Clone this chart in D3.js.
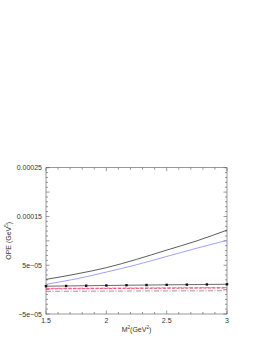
<!DOCTYPE html>
<html>
<head>
<meta charset="utf-8">
<script src="https://cdn.jsdelivr.net/npm/d3@7"></script>
<style>
  body { margin: 0; background: #fff; }
  text { font-family: "Liberation Sans", Arial, sans-serif; fill: #333; }
</style>
</head>
<body>
<svg></svg>
<script>
// values
let xs = [1.5, 1.75, 2, 2.25, 2.5, 2.75, 3]
let blackVals = [2.1e-5, 3.2e-5, 4.5e-5, 6.2e-5, 8.1e-5, 1.0e-4, 1.22e-4]
let blueVals = [1.1e-5, 2.2e-5, 3.6e-5, 5.1e-5, 6.8e-5, 8.5e-5, 1.01e-4]
let pinkVals = [0.25e-5, 0.28e-5, 0.31e-5, 0.34e-5, 0.37e-5, 0.40e-5, 0.43e-5]
let redVals = [0.15e-5, 0.19e-5, 0.22e-5, 0.25e-5, 0.28e-5, 0.31e-5, 0.34e-5]
let purpleVals = [-0.35e-5, -0.33e-5, -0.31e-5, -0.29e-5, -0.27e-5, -0.25e-5, -0.23e-5]

let markXs = [1.5, 1.667, 1.833, 2, 2.167, 2.333, 2.5, 2.667, 2.833, 3]
let markVals = [0.70e-5, 0.75e-5, 0.80e-5, 0.85e-5, 0.90e-5, 0.94e-5, 0.98e-5, 1.02e-5, 1.06e-5, 1.10e-5]

let xTicks = [1.5, 2, 2.5, 3]
let xTickLabels = ['1.5', '2', '2.5', '3']
let yTicks = [-5e-5, 5e-5, 1.5e-4, 2.5e-4]
let yTickLabels = ['\u22125e\u221205', '5e\u221205', '0.00015', '0.00025']

let width = 274
let height = 354
let margin = { left: 46, right: 47, top: 167.7, bottom: 40 }

let svg = d3.select('svg')
    .attr('width', width)
    .attr('height', height)

let x = d3.scaleLinear()
          .domain([1.5, 3])
          .range([margin.left, width - margin.right])

let y = d3.scaleLinear()
          .domain([-5e-5, 2.5e-4])
          .range([height - margin.bottom, margin.top])

let x0 = x.range()[0], x1 = x.range()[1]
let y0 = y.range()[0], y1 = y.range()[1]

// frame
svg.append('rect')
    .attr('x', x0).attr('y', y1)
    .attr('width', x1 - x0).attr('height', y0 - y1)
    .attr('fill', 'none')
    .attr('stroke', '#555')
    .attr('stroke-width', 0.6)

// ticks (inward, all four sides)
let xMinor = d3.range(15, 31).map(d => d / 10)
let yMinor = d3.range(-5, 26).map(d => d * 1e-5)
let ticks = svg.append('g').attr('stroke', '#555').attr('stroke-width', 0.6)

xMinor.forEach(v => {
  let major = Math.abs(v * 2 - Math.round(v * 2)) < 1e-6
  let len = major ? 3.5 : 2
  ticks.append('line').attr('x1', x(v)).attr('x2', x(v)).attr('y1', y0).attr('y2', y0 - len)
  ticks.append('line').attr('x1', x(v)).attr('x2', x(v)).attr('y1', y1).attr('y2', y1 + len)
})
yMinor.forEach(v => {
  let major = Math.abs(v / 5e-5 - Math.round(v / 5e-5)) < 1e-6
  let len = major ? 3.5 : 2
  ticks.append('line').attr('x1', x0).attr('x2', x0 + len).attr('y1', y(v)).attr('y2', y(v))
  ticks.append('line').attr('x1', x1).attr('x2', x1 - len).attr('y1', y(v)).attr('y2', y(v))
})

// tick labels
svg.append('g').selectAll('text')
  .data(xTicks)
  .enter()
  .append('text')
    .attr('x', d => x(d))
    .attr('y', y0 + 9)
    .attr('text-anchor', 'middle')
    .attr('font-size', 7)
    .text((d, i) => xTickLabels[i])

svg.append('g').selectAll('text')
  .data(yTicks)
  .enter()
  .append('text')
    .attr('x', x0 - 4)
    .attr('y', d => y(d) + 2.5)
    .attr('text-anchor', 'end')
    .attr('font-size', 7)
    .text((d, i) => yTickLabels[i])

// axis titles
let xt = svg.append('text')
    .attr('x', (x0 + x1) / 2)
    .attr('y', y0 + 18)
    .attr('text-anchor', 'middle')
    .attr('font-size', 7)
xt.append('tspan').text('M')
xt.append('tspan').attr('font-size', 4.5).attr('dy', -3).text('2')
xt.append('tspan').attr('dy', 3).text('(GeV')
xt.append('tspan').attr('font-size', 4.5).attr('dy', -3).text('2')
xt.append('tspan').attr('dy', 3).text(')')

let yt = svg.append('text')
    .attr('transform', `translate(11, ${(y0 + y1) / 2}) rotate(-90)`)
    .attr('text-anchor', 'middle')
    .attr('font-size', 7)
yt.append('tspan').text('OPE (GeV')
yt.append('tspan').attr('font-size', 4.5).attr('dy', -3).text('5')
yt.append('tspan').attr('dy', 3).text(')')

// curves
let line = d3.line()
              .x(d => x(d[0]))
              .y(d => y(d[1]))
              .curve(d3.curveMonotoneX)

let series = [
  { vals: purpleVals, color: '#a07090', dash: '5,1.5,1,1.5' },
  { vals: redVals, color: '#e03030', dash: '3,1.5' },
  { vals: pinkVals, color: '#ff4fa0', dash: '4,1.5' },
  { vals: blueVals, color: '#8888ff', dash: null },
  { vals: blackVals, color: '#333', dash: null }
]

series.forEach(s => {
  svg.append('path')
      .attr('d', line(xs.map((v, i) => [v, s.vals[i]])))
      .attr('fill', 'none')
      .attr('stroke', s.color)
      .attr('stroke-width', 0.8)
      .attr('stroke-dasharray', s.dash)
})

let markData = markXs.map((v, i) => [v, markVals[i]])
svg.append('path')
    .attr('d', line(markData))
    .attr('fill', 'none')
    .attr('stroke', '#444')
    .attr('stroke-width', 0.8)

svg.append('g').selectAll('rect')
  .data(markData)
  .enter()
  .append('rect')
    .attr('x', d => x(d[0]) - 1.2)
    .attr('y', d => y(d[1]) - 1.2)
    .attr('width', 2.4)
    .attr('height', 2.4)
    .attr('fill', '#111')
</script>
</body>
</html>
